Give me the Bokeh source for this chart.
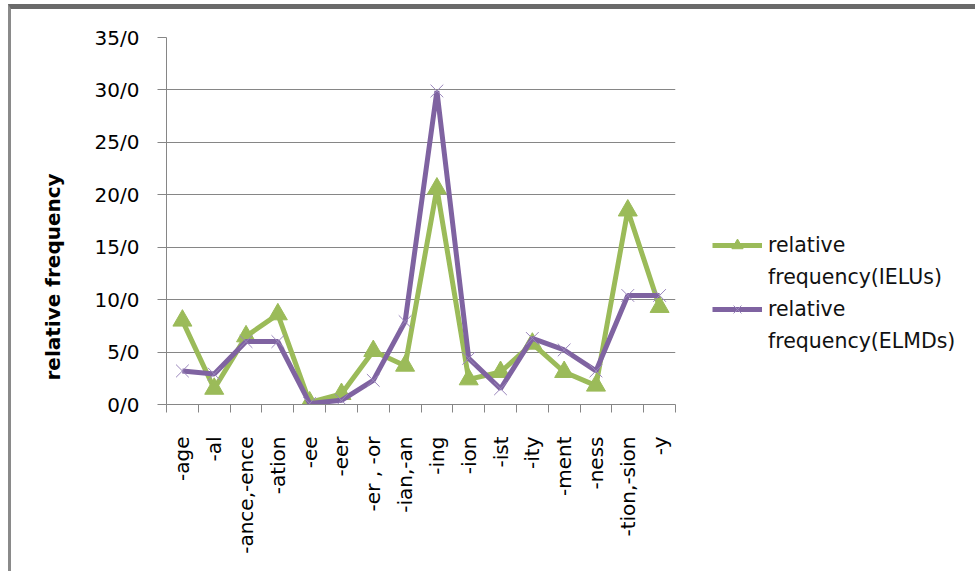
import math
from bokeh.plotting import figure
from bokeh.models import (Range1d, FixedTicker, Legend, LegendItem, Title, ColumnDataSource)
from bokeh.embed import file_html
from bokeh.resources import INLINE

categories = ["-age", "-al", "-ance,-ence", "-ation", "-ee", "-eer", "-er , -or", "-ian,-an",
              "-ing", "-ion", "-ist", "-ity", "-ment", "-ness", "-tion,-sion", "-y"]
ielus = [8.0, 1.5, 6.5, 8.6, 0.2, 1.0, 5.1, 3.7, 20.6, 2.4, 3.1, 5.8, 3.1, 1.8, 18.5, 9.3]
elmds = [3.2, 2.9, 6.0, 6.0, 0.1, 0.4, 2.3, 7.9, 29.9, 4.4, 1.5, 6.3, 5.2, 3.2, 10.4, 10.4]
y_ticks = [0, 5, 10, 15, 20, 25, 30, 35]
y_tick_labels = ["0/0", "5/0", "10/0", "15/0", "20/0", "25/0", "30/0", "35/0"]
series_lines = [["relative", "frequency(IELUs)"], ["relative", "frequency(ELMDs)"]]
y_title = "relative frequency"

GREEN = "#9BBB59"
PURPLE = "#7F63A1"
GRID = "#868686"
FONT = "DejaVu Sans"

n = len(categories)
xs = [i + 0.5 for i in range(n)]
src = ColumnDataSource(dict(x=xs, ielus=ielus, elmds=elmds))

p = figure(frame_width=509, frame_height=367, output_backend="svg", toolbar_location=None,
           x_range=Range1d(0, n), y_range=Range1d(0, 35),
           min_border_left=155, min_border_right=0, min_border_top=28, min_border_bottom=167)
p.styles = {"margin-left": "8px", "margin-top": "4px",
            "border-top": "5px solid #6a6a6a", "border-left": "3px solid #8a8a8a"}
p.outline_line_color = None
p.background_fill_color = "white"
p.border_fill_color = "white"

# x axis: labels at category centres, tick marks at category boundaries (as minor ticks)
p.xaxis.ticker = FixedTicker(ticks=xs, minor_ticks=list(range(n + 1)))
p.xaxis.major_label_overrides = {x: c for x, c in zip(xs, categories)}
p.xaxis.major_label_orientation = math.pi / 2
p.xaxis.major_tick_line_color = None
p.xaxis.minor_tick_out = 8
p.xaxis.minor_tick_in = 0
p.xaxis.minor_tick_line_color = GRID
p.xaxis.axis_line_color = GRID
p.xaxis.major_label_standoff = 24
p.xaxis.major_label_text_font = FONT
p.xaxis.major_label_text_font_size = "20px"
p.xaxis.major_label_text_color = "black"

p.yaxis.ticker = FixedTicker(ticks=y_ticks, minor_ticks=[])
p.yaxis.major_label_overrides = {t: l for t, l in zip(y_ticks, y_tick_labels)}
p.yaxis.major_tick_out = 9
p.yaxis.major_tick_in = 0
p.yaxis.major_tick_line_color = GRID
p.yaxis.axis_line_color = GRID
p.yaxis.major_label_standoff = 18
p.yaxis.major_label_text_font = FONT
p.yaxis.major_label_text_font_size = "20px"
p.yaxis.major_label_text_color = "black"

p.xgrid.grid_line_color = None
p.ygrid.ticker = FixedTicker(ticks=y_ticks[1:])
p.ygrid.grid_line_color = GRID
p.ygrid.grid_line_width = 1.2

gl = p.line("x", "ielus", source=src, line_color=GREEN, line_width=5)
gm = p.scatter("x", "ielus", source=src, marker="triangle", size=19,
               fill_color=GREEN, line_color=GREEN)
pl = p.line("x", "elmds", source=src, line_color=PURPLE, line_width=5)
pm = p.scatter("x", "elmds", source=src, marker="x", size=18,
               line_color="#9A86BC", line_width=1)
# invisible renderer used only for the second (continuation) line of each legend entry
blank = p.line(x=[], y=[], line_alpha=0)

legend = Legend(items=[LegendItem(label=series_lines[0][0], renderers=[gl, gm]),
                       LegendItem(label=series_lines[0][1], renderers=[blank]),
                       LegendItem(label=series_lines[1][0], renderers=[pl, pm]),
                       LegendItem(label=series_lines[1][1], renderers=[blank])],
                location=(37, 49), orientation="vertical",
                glyph_width=50, glyph_height=28, label_height=20, label_standoff=6,
                label_text_font=FONT, label_text_font_size="20.5px",
                label_text_color="#111111",
                spacing=4,
                padding=0, margin=0, border_line_color=None,
                background_fill_alpha=0)
p.add_layout(legend, "right")

ytitle = Title(text=y_title, align="left", offset=24, standoff=54,
               text_font=FONT, text_font_size="20px", text_font_style="bold",
               text_color="black")
p.add_layout(ytitle, "left")

open("out.html", "w").write(file_html(p, INLINE))
